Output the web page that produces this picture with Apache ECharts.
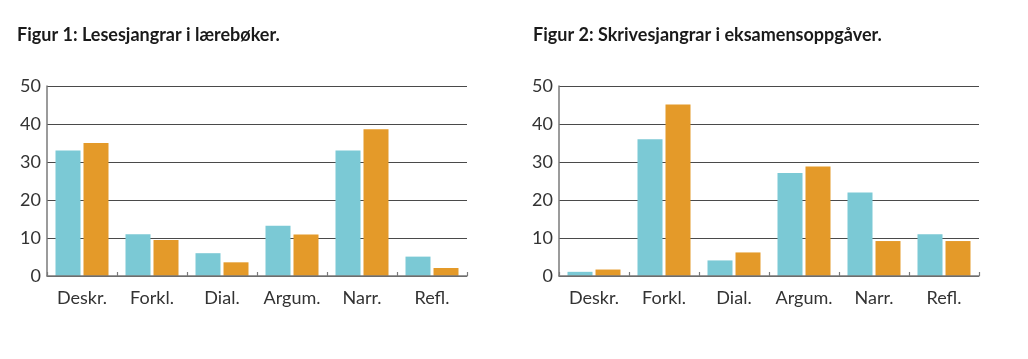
<!DOCTYPE html>
<html>
<head>
<meta charset="utf-8">
<script src="https://cdn.jsdelivr.net/npm/echarts@6/dist/echarts.min.js"></script>
<style>
html,body{margin:0;padding:0;background:#fff;}
#chart{width:1028px;height:359px;}
</style>
</head>
<body>
<div id="chart"></div>
<script>
const categories = ["Deskr.", "Forkl.", "Dial.", "Argum.", "Narr.", "Refl."];
const yTicks = [0, 10, 20, 30, 40, 50];
const titles = ["Figur 1: Lesesjangrar i lærebøker.", "Figur 2: Skrivesjangrar i eksamensoppgåver."];
const fig1Blue = [33, 11, 6, 13.2, 33, 5.1];
const fig1Orange = [35, 9.5, 3.6, 10.9, 38.6, 2.1];
const fig2Blue = [1.1, 36, 4.1, 27.1, 22, 11];
const fig2Orange = [1.7, 45.1, 6.2, 28.8, 9.2, 9.2];

const BLUE = "#7BC9D5";
const ORANGE = "#E49A29";
const FONT = "Lato";

const chart = echarts.init(document.getElementById("chart"), null, {renderer: "canvas"});

function xAxis(gi) {
  return {
    type: "category", gridIndex: gi, data: categories,
    axisLine: {show: true, lineStyle: {color: "#7a7a7a", width: 1.5}},
    axisTick: {show: true, inside: true, length: 4, lineStyle: {color: "#7a7a7a", width: 1.2}},
    axisLabel: {color: "#333", fontFamily: FONT, fontSize: 18, margin: 13, interval: 0},
    z: 5
  };
}
function yAxis(gi) {
  return {
    type: "value", gridIndex: gi, min: yTicks[0], max: yTicks[yTicks.length - 1], interval: 10,
    axisLine: {show: true, lineStyle: {color: "#7a7a7a", width: 1.5}},
    axisTick: {show: false},
    axisLabel: {color: "#333", fontFamily: FONT, fontSize: 18, margin: 6},
    splitLine: {show: true, lineStyle: {color: "#4a4a4a", width: 1.2}}
  };
}
function bar(gi, data, color) {
  return {
    type: "bar", xAxisIndex: gi, yAxisIndex: gi, data: data,
    barWidth: 25, barGap: "12%",
    itemStyle: {color: color},
    z: 3
  };
}

chart.setOption({
  animation: false,
  title: [
    {text: titles[0], left: 12, top: 21, textStyle: {fontFamily: FONT, fontWeight: "bold", fontSize: 18, color: "#1a1a1a"}},
    {text: titles[1], left: 528, top: 21, textStyle: {fontFamily: FONT, fontWeight: "bold", fontSize: 18, color: "#1a1a1a"}}
  ],
  grid: [
    {left: 47, top: 86, width: 420, height: 190},
    {left: 559, top: 86, width: 420, height: 190}
  ],
  xAxis: [xAxis(0), xAxis(1)],
  yAxis: [yAxis(0), yAxis(1)],
  series: [
    bar(0, fig1Blue, BLUE), bar(0, fig1Orange, ORANGE),
    bar(1, fig2Blue, BLUE), bar(1, fig2Orange, ORANGE)
  ]
});
</script>
</body>
</html>
